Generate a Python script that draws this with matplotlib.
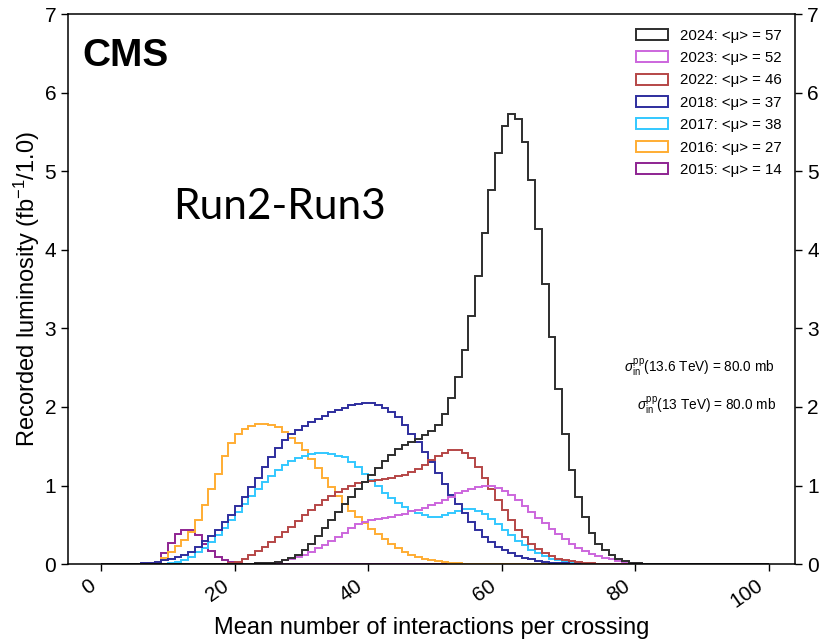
import numpy as np
import matplotlib
matplotlib.use("Agg")
import matplotlib.pyplot as plt
import matplotlib.transforms as mtransforms
from matplotlib.patches import Patch

plt.rcParams["font.family"] = ["Liberation Sans", "DejaVu Sans"]
plt.rcParams["mathtext.fontset"] = "custom"
plt.rcParams["mathtext.rm"] = "Liberation Sans"
plt.rcParams["mathtext.it"] = "Liberation Sans:italic"
plt.rcParams["mathtext.bf"] = "Liberation Sans:bold"

# pileup bins: width 1, from 0 to 100
edges = np.arange(0, 101)

# recorded luminosity per bin (fb^-1), each list starts at its first non-empty bin
start_2015 = 6
lumi_2015 = [0.005, 0.01, 0.03, 0.14, 0.27, 0.38, 0.44, 0.44, 0.37, 0.26, 0.17,
             0.09, 0.05, 0.03, 0.01, 0.005]

start_2016 = 7
lumi_2016 = [0.01, 0.03, 0.08, 0.15, 0.23, 0.31, 0.41, 0.56, 0.75, 0.95, 1.15,
             1.37, 1.54, 1.65, 1.72, 1.76, 1.78, 1.78, 1.77, 1.74, 1.68, 1.61,
             1.54, 1.45, 1.34, 1.22, 1.10, 0.98, 0.87, 0.77, 0.68, 0.60, 0.52,
             0.45, 0.38, 0.32, 0.26, 0.20, 0.16, 0.12, 0.09, 0.07, 0.05, 0.04,
             0.03, 0.02, 0.01, 0.005]

start_2017 = 10
lumi_2017 = [0.01, 0.03, 0.05, 0.09, 0.15, 0.21, 0.28, 0.37, 0.46, 0.56, 0.66,
             0.77, 0.87, 0.96, 1.04, 1.12, 1.20, 1.26, 1.31, 1.35, 1.38, 1.40,
             1.41, 1.41, 1.40, 1.38, 1.36, 1.30, 1.23, 1.15, 1.07, 0.99, 0.91,
             0.84, 0.78, 0.73, 0.68, 0.65, 0.62, 0.60, 0.60, 0.62, 0.65, 0.68,
             0.70, 0.70, 0.68, 0.64, 0.58, 0.51, 0.44, 0.37, 0.30, 0.24, 0.18,
             0.14, 0.10, 0.07, 0.05, 0.03, 0.02, 0.01, 0.005]

start_2018 = 5
lumi_2018 = [0.005, 0.01, 0.02, 0.03, 0.05, 0.07, 0.09, 0.11, 0.16, 0.22, 0.29,
             0.36, 0.44, 0.53, 0.63, 0.74, 0.86, 0.98, 1.10, 1.23, 1.36, 1.48,
             1.58, 1.65, 1.71, 1.76, 1.81, 1.85, 1.89, 1.93, 1.96, 1.99, 2.02,
             2.04, 2.05, 2.05, 2.03, 1.99, 1.94, 1.87, 1.77, 1.66, 1.55, 1.43,
             1.30, 1.16, 1.02, 0.88, 0.76, 0.65, 0.54, 0.43, 0.35, 0.28, 0.22,
             0.18, 0.14, 0.10, 0.08, 0.06, 0.04, 0.03, 0.02, 0.015, 0.01, 0.005]

start_2022 = 19
lumi_2022 = [0.01, 0.03, 0.07, 0.12, 0.17, 0.22, 0.28, 0.35, 0.41, 0.47, 0.55,
             0.62, 0.69, 0.75, 0.81, 0.87, 0.92, 0.96, 1.00, 1.03, 1.05, 1.06,
             1.07, 1.08, 1.10, 1.12, 1.14, 1.17, 1.21, 1.26, 1.32, 1.38, 1.42,
             1.45, 1.45, 1.42, 1.35, 1.23, 1.10, 0.96, 0.82, 0.69, 0.56, 0.44,
             0.35, 0.26, 0.19, 0.14, 0.10, 0.07, 0.05, 0.04, 0.03, 0.02, 0.01,
             0.005]

start_2023 = 22
lumi_2023 = [0.005, 0.01, 0.015, 0.02, 0.03, 0.05, 0.07, 0.09, 0.12, 0.16, 0.20,
             0.24, 0.29, 0.34, 0.40, 0.46, 0.51, 0.54, 0.56, 0.57, 0.59, 0.60,
             0.62, 0.64, 0.67, 0.69, 0.72, 0.75, 0.78, 0.82, 0.86, 0.90, 0.93,
             0.96, 0.98, 0.99, 0.99, 0.97, 0.93, 0.88, 0.81, 0.74, 0.66, 0.59,
             0.52, 0.45, 0.38, 0.32, 0.26, 0.21, 0.17, 0.13, 0.10, 0.08, 0.06,
             0.04, 0.03, 0.02, 0.01, 0.005]

start_2024 = 22
lumi_2024 = [0.005, 0.01, 0.015, 0.02, 0.03, 0.05, 0.08, 0.12, 0.18, 0.26, 0.36,
             0.46, 0.56, 0.66, 0.76, 0.86, 0.95, 1.04, 1.13, 1.22, 1.31, 1.39,
             1.46, 1.51, 1.55, 1.59, 1.64, 1.69, 1.77, 1.91, 2.11, 2.38, 2.73,
             3.16, 3.67, 4.22, 4.76, 5.23, 5.57, 5.73, 5.67, 5.37, 4.89, 4.26,
             3.57, 2.89, 2.23, 1.66, 1.20, 0.86, 0.60, 0.39, 0.26, 0.18, 0.11,
             0.07, 0.04, 0.02, 0.01, 0.005]

years = ["2024", "2023", "2022", "2018", "2017", "2016", "2015"]
mean_mu = [57, 52, 46, 37, 38, 27, 14]
colors = ["#2e2e2e", "#cc66dd", "#b54646", "#2e2e9e", "#33c8ff", "#ffad33", "#8e2492"]
series = {
    "2024": (start_2024, lumi_2024),
    "2023": (start_2023, lumi_2023),
    "2022": (start_2022, lumi_2022),
    "2018": (start_2018, lumi_2018),
    "2017": (start_2017, lumi_2017),
    "2016": (start_2016, lumi_2016),
    "2015": (start_2015, lumi_2015),
}


def full_hist(start, vals):
    h = np.zeros(len(edges) - 1)
    h[start:start + len(vals)] = vals
    return h


fig = plt.figure(figsize=(8.2, 6.41), dpi=100)
ax = fig.add_axes([0.083, 0.12, 0.887, 0.858])

# older years first so the 2024 peak sits on top
for year, col in reversed(list(zip(years, colors))):
    start, vals = series[year]
    ax.stairs(full_hist(start, vals), edges, color=col, linewidth=1.4)

ax.set_xlim(-5, 104)
ax.set_ylim(0, 7)
ax.set_xticks([0, 20, 40, 60, 80, 100])
ax.set_yticks(range(8))
ax.tick_params(axis="both", direction="out", length=5, width=1, labelsize=15)
ax.tick_params(axis="y", right=True, labelright=True)
shift = mtransforms.ScaledTranslation(-0.13, 0, fig.dpi_scale_trans)
for lab in ax.get_xticklabels():
    lab.set_rotation(35)
    lab.set_ha("right")
    lab.set_rotation_mode("anchor")
    lab.set_transform(lab.get_transform() + shift)
for sp in ax.spines.values():
    sp.set_linewidth(1.1)

ax.set_xlabel("Mean number of interactions per crossing", fontsize=17, labelpad=4)
ax.set_ylabel(r"Recorded luminosity (fb$^{-1}$/1.0)", fontsize=17, labelpad=2)

ax.text(0.019, 0.957, "CMS", transform=ax.transAxes, fontsize=28,
        fontweight="bold", va="top", ha="left")
ax.text(0.144, 0.649, "Run2-Run3", transform=ax.transAxes, fontsize=30.5,
        family=["Lato", "DejaVu Sans"], va="center", ha="left")

ax.text(0.971, 0.358, r"$\sigma^{\mathrm{pp}}_{\mathrm{in}}$(13.6 TeV) = 80.0 mb",
        transform=ax.transAxes, fontsize=9.8, ha="right", va="center")
ax.text(0.973, 0.289, r"$\sigma^{\mathrm{pp}}_{\mathrm{in}}$(13 TeV) = 80.0 mb",
        transform=ax.transAxes, fontsize=9.8, ha="right", va="center")

handles = [Patch(facecolor="none", edgecolor=c, linewidth=1.4) for c in colors]
labels = [f"{y}: <\u03bc> = {m}" for y, m in zip(years, mean_mu)]
ax.legend(handles, labels, loc="upper right", bbox_to_anchor=(0.993, 0.99),
          frameon=False, fontsize=10.8, handlelength=2.1, handleheight=0.75,
          labelspacing=0.56, handletextpad=0.8, borderaxespad=0.2)

fig.savefig("out.png", dpi=100)
